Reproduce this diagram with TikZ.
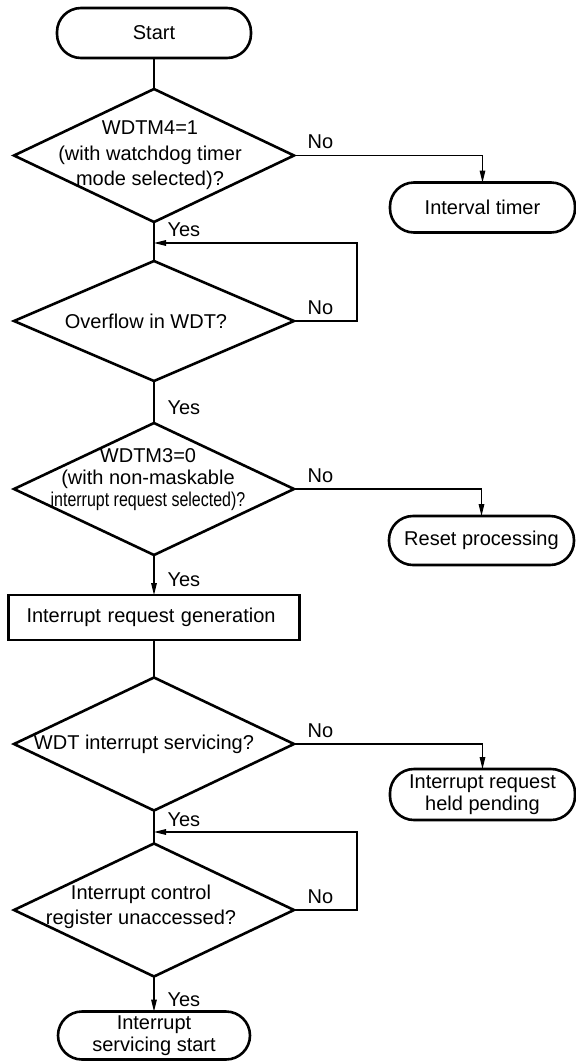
\documentclass[tikz,border=0pt]{standalone}
\usepackage{fontspec}
\setmainfont{Liberation Sans}
\usepackage{graphicx}
\usepackage{tikz}
\usetikzlibrary{positioning}
\usetikzlibrary{shapes.geometric, arrows.meta}

\begin{document}
\begin{tikzpicture}[node distance = 18pt]
    \tikzset{
    terminal/.style=
    {
        rectangle,
        rounded corners=12pt,
        draw,
        line width=1.3pt,
        outer sep=0pt,
        minimum width=97pt,
        minimum height=25pt,
        inner sep=1pt,
        align=center,
        font=\fontsize{10}{11}\selectfont
    },
    process/.style=
    {
        rectangle,
        draw,
        line width=1.3pt,
        outer sep=0pt,
        text width=127.5pt,
        inner xsep=9pt,
        minimum height=22.5pt,
        align=left,
        font=\fontsize{10}{12}\selectfont
    },
    decision/.style=
    {
        diamond,
        draw,
        line width=1.3pt,
        outer sep=0pt,
        minimum width=140pt,
        minimum height=66.5pt,
        inner sep=0pt
    },
    question/.style=
    {
        align=center,
        inner sep=0pt,
        xshift=-4pt,
        font=\fontsize{10}{12.5}\selectfont
    },
    answer/.style=
    {
        inner sep=0pt,
        font=\fontsize{10}{12}\selectfont
    },
    link/.style=
    {
        line width=0.6pt
    },
    arrowlink/.style=
    {
        line width=0.6pt,
        -{Triangle[length=6pt,width=2.8pt]}
    }
}

  \useasboundingbox (0,0) rectangle (288pt,-530.5pt);

  % main column
  \node[terminal] (Start) at (77pt,-16.5pt) {Start};
  \node[decision, below=15.5pt of Start,
        label={[question, xshift=2pt, font=\fontsize{10}{12.75}\selectfont]center:{WDTM4=1\\(with watchdog timer\\mode selected)?}}] (Mode) {};
  \node[decision, minimum height=60pt, below=19.5pt of Mode,
        label={[question]center:{Overflow in WDT?}}] (Ovf) {};
  \node[decision, minimum height=66pt, below=21pt of Ovf,
        label={[question, xshift=1pt, yshift=4.5pt, font=\fontsize{10}{11}\selectfont]center:{WDTM3=0\\(with non-maskable\\\scalebox{0.8}[1]{interrupt request selected)?}}}] (Nmi) {};
  \node[process, below=20pt of Nmi] (Gen) {Interrupt request generation};
  \node[decision, below=18.75pt of Gen,
        label={[question, xshift=-1pt]center:{WDT interrupt servicing?}}] (Serv) {};
  \node[decision, below=16.5pt of Serv,
        label={[question, xshift=-2.5pt, yshift=1.75pt]center:{Interrupt control\\register unaccessed?}}] (Icr) {};
  \node[terminal, minimum width=96pt, minimum height=24pt, below=17.5pt of Icr] (End) {Interrupt\\servicing start};

  % side exits
  \node[terminal, minimum width=92.5pt, below right=13.5pt and 48pt of Mode.east] (Itv) {Interval timer};
  \node[terminal, minimum width=92.5pt, minimum height=24.5pt, below right=13.5pt and 47.5pt of Nmi.east] (Rst) {Reset processing};
  \node[terminal, minimum width=92.5pt, minimum height=25.5pt, below right=12.5pt and 48pt of Serv.east] (Pend) {Interrupt request\\held pending};

  \coordinate (J1) at ([yshift=-10.5pt]Mode.south);
  \coordinate (J2) at ([yshift=-10.75pt]Serv.south);

  \draw[link] (Start.south) -- (Mode.north);
  \draw[link] (Mode.south) -- node[answer, pos=0.2, right, xshift=6.5pt] {Yes} (Ovf.north);
  \draw[link] (Ovf.south) -- node[answer, pos=0.64, right, xshift=6.5pt] {Yes} (Nmi.north);
  \draw[arrowlink] (Nmi.south) -- node[answer, pos=0.62, right, xshift=6.5pt] {Yes} (Gen.north);
  \draw[link] (Gen.south) -- (Serv.north);
  \draw[link] (Serv.south) -- node[answer, pos=0.27, right, xshift=6.5pt] {Yes} (Icr.north);
  \draw[arrowlink] (Icr.south) -- node[answer, pos=0.65, right, xshift=6.5pt] {Yes} (End.north);

  \draw[arrowlink] (Mode.east) -| node[answer, pos=0, anchor=south west, xshift=6.5pt, yshift=3pt] {No} (Itv.north);
  \draw[arrowlink] (Nmi.east) -| node[answer, pos=0, anchor=south west, xshift=6.5pt, yshift=3pt] {No} (Rst.north);
  \draw[arrowlink] (Serv.east) -| node[answer, pos=0, anchor=south west, xshift=6.5pt, yshift=3pt] {No} (Pend.north);

  \draw[arrowlink] (Ovf.east) -- node[answer, pos=0, anchor=south west, xshift=6.5pt, yshift=3pt] {No} ++(31.5pt,0) |- (J1);
  \draw[arrowlink] (Icr.east) -- node[answer, pos=0, anchor=south west, xshift=6.5pt, yshift=3pt] {No} ++(31.5pt,0) |- (J2);

\end{tikzpicture}
\end{document}
